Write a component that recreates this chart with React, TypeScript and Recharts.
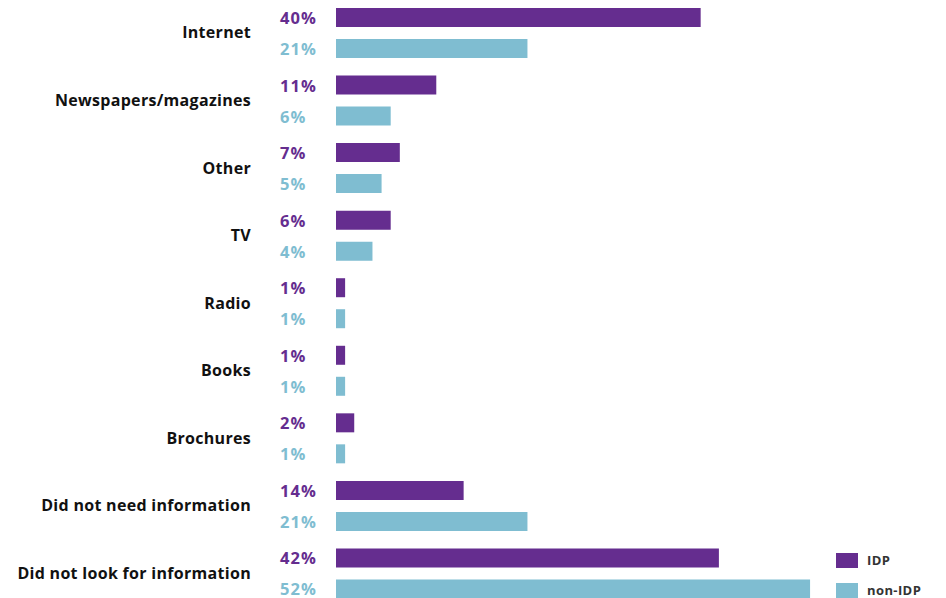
import React from 'react';
import { BarChart, Bar, XAxis, YAxis, Legend, LabelList } from 'recharts';

const categories = [
  'Internet',
  'Newspapers/magazines',
  'Other',
  'TV',
  'Radio',
  'Books',
  'Brochures',
  'Did not need information',
  'Did not look for information',
];
const idpValues = [40, 11, 7, 6, 1, 1, 2, 14, 42];
const nonIdpValues = [21, 6, 5, 4, 1, 1, 1, 21, 52];

const PURPLE = '#652d8f';
const BLUE = '#7fbdd1';
const FONT = '"Open Sans", "Noto Sans", sans-serif';

const data = categories.map((name, i) => ({
  name,
  idp: idpValues[i],
  nonIdp: nonIdpValues[i],
}));

const makeLabel = (color: string) => (props: any) => {
  const { x, y, height, value } = props;
  return (
    <text
      x={x - 56}
      y={y + height / 2}
      dominantBaseline="central"
      textAnchor="start"
      fill={color}
      fontFamily={FONT}
      fontWeight={700}
      fontSize={16.5}
      letterSpacing={1}
    >
      {value}%
    </text>
  );
};

const legendItems = [
  { label: 'IDP', color: PURPLE },
  { label: 'non-IDP', color: BLUE },
];

const LegendContent = () => (
  <div style={{ fontFamily: FONT }}>
    {legendItems.map(item => (
      <div key={item.label} style={{ display: 'flex', alignItems: 'center', height: 30 }}>
        <div style={{ width: 22, height: 15, background: item.color, marginRight: 9 }} />
        <span style={{ fontSize: 13, fontWeight: 700, color: '#333', letterSpacing: 0.4 }}>{item.label}</span>
      </div>
    ))}
  </div>
);

const App: React.FC = () => {
  return (
    <div style={{ position: 'absolute', top: 0, left: 0, width: 946, height: 598, overflow: 'hidden', background: '#fff' }}>
      {/* extra 60px at the bottom is eaten by the legend box */}
      <div style={{ position: 'relative', top: -1 }}>
        <BarChart
          width={946}
          height={668}
          data={data}
          layout="vertical"
          margin={{ top: 0, right: 63, bottom: 0, left: 0 }}
          barSize={19}
          barGap={12}
        >
          <XAxis type="number" domain={[0, 60]} hide />
          <YAxis
            type="category"
            dataKey="name"
            width={336}
            axisLine={false}
            tickLine={false}
            tickSize={0}
            tickMargin={85}
            interval={0}
            tick={{ fill: '#111', fontFamily: FONT, fontWeight: 700, fontSize: 16, letterSpacing: 0.3 }}
          />
          <Legend
            content={<LegendContent />}
            wrapperStyle={{ position: 'absolute', left: 836, top: 546, width: 110, height: 60 }}
          />
          <Bar dataKey="idp" name="IDP" fill={PURPLE} isAnimationActive={false}>
            <LabelList dataKey="idp" content={makeLabel(PURPLE)} />
          </Bar>
          <Bar dataKey="nonIdp" name="non-IDP" fill={BLUE} isAnimationActive={false}>
            <LabelList dataKey="nonIdp" content={makeLabel(BLUE)} />
          </Bar>
        </BarChart>
      </div>
    </div>
  );
};

export default App;
